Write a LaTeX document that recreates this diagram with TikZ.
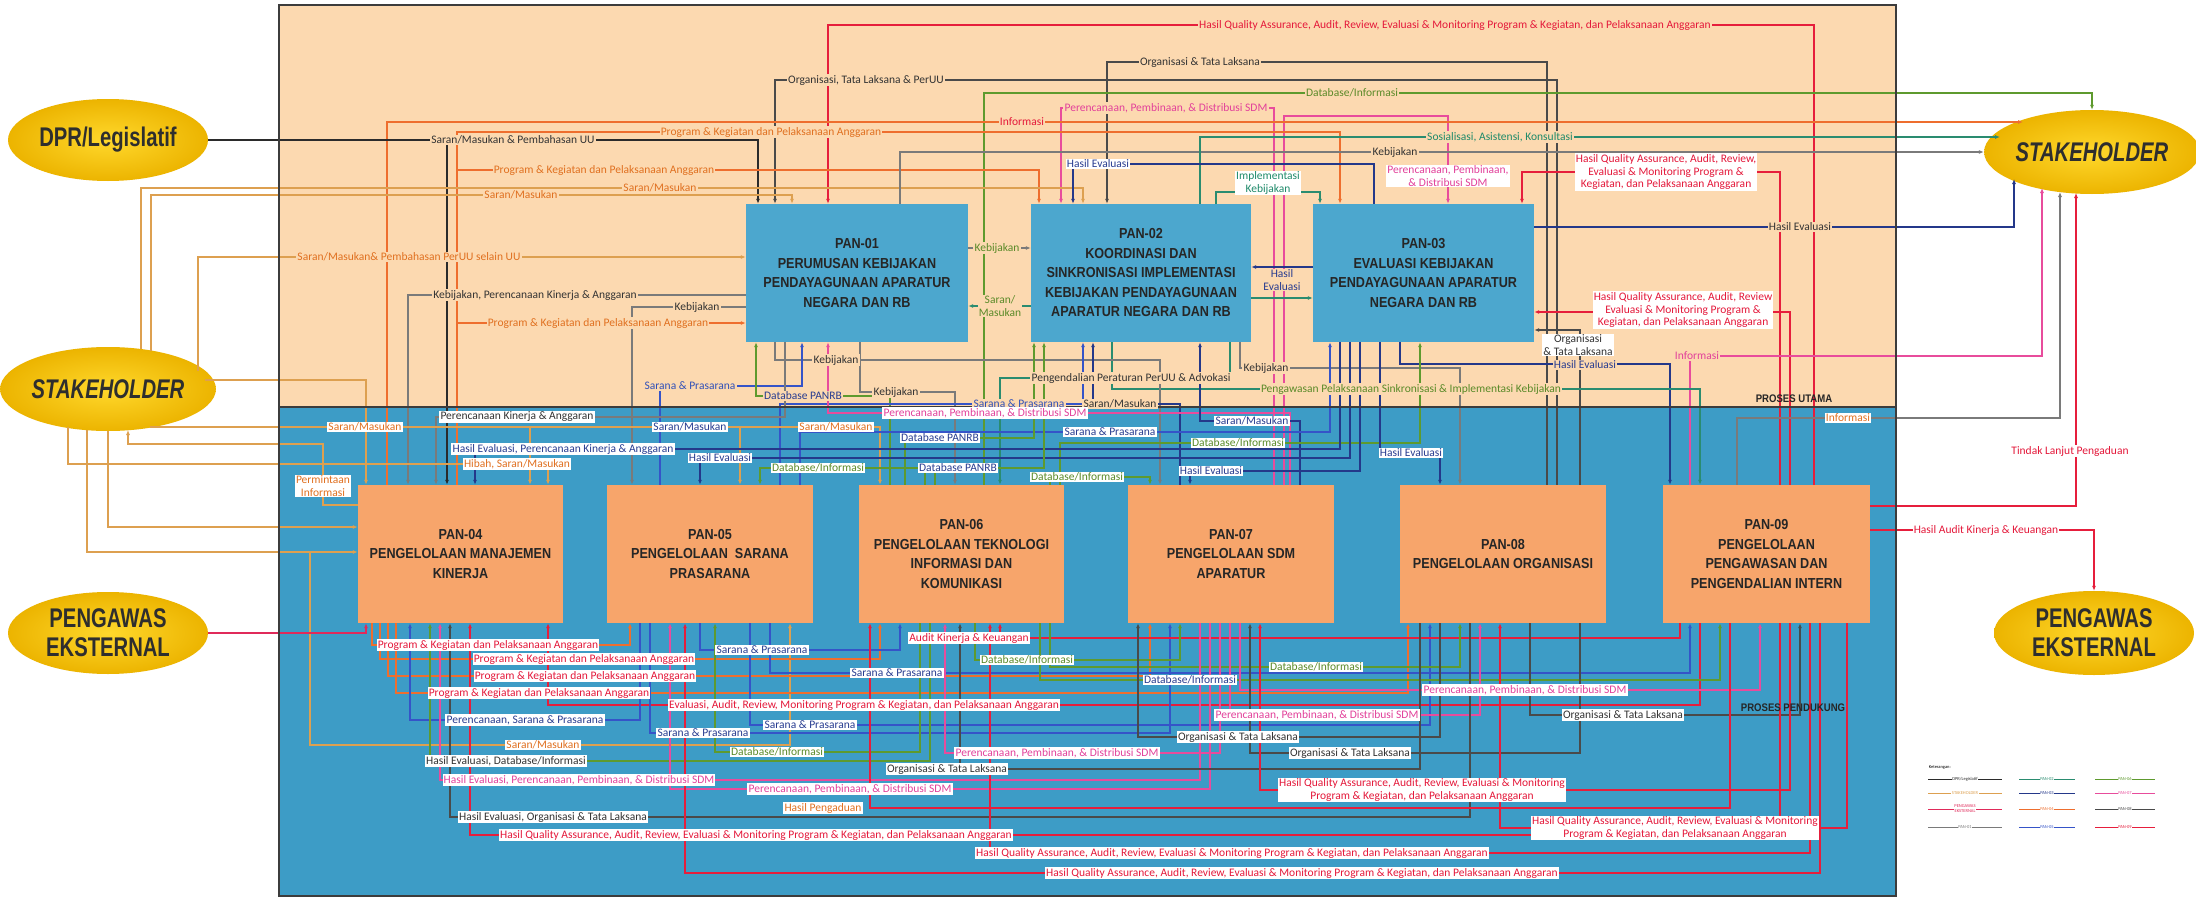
\documentclass[tikz,border=0pt]{standalone}
\usepackage{fontspec}
\setmainfont{Carlito}
\newfontfamily\boxfont[FakeStretch=0.87]{Liberation Sans}
\newfontfamily\ovalfont[FakeStretch=0.75]{Liberation Sans}
\usetikzlibrary{arrows.meta,shapes.geometric}

\definecolor{peach}{HTML}{FCD9B0}
\definecolor{seablue}{HTML}{3D9CC6}
\definecolor{topbox}{HTML}{4CA7CE}
\definecolor{botbox}{HTML}{F7A56B}
\definecolor{ovalin}{HTML}{FFD82C}
\definecolor{ovalout}{HTML}{ECB400}
\definecolor{framec}{HTML}{3C3C3C}
% connector colours
\definecolor{cdpr}{HTML}{2B2B2B}
\definecolor{cstk}{HTML}{DDA050}
\definecolor{cpen}{HTML}{E02A5A}
\definecolor{cA}{HTML}{7A7A7A}
\definecolor{cB}{HTML}{2A8C70}
\definecolor{cC}{HTML}{24388A}
\definecolor{cD}{HTML}{EE6E2E}
\definecolor{cE}{HTML}{3554C8}
\definecolor{cF}{HTML}{5E9A2E}
\definecolor{cG}{HTML}{E84C9C}
\definecolor{cH}{HTML}{4A4A4A}
\definecolor{cI}{HTML}{E61E3C}
% label text colours
\definecolor{tdark}{HTML}{333333}
\definecolor{torange}{HTML}{E07020}
\definecolor{tred}{HTML}{E4183A}
\definecolor{tpink}{HTML}{E2409A}
\definecolor{tgreen}{HTML}{5A8A28}
\definecolor{tnavy}{HTML}{283C90}
\definecolor{tteal}{HTML}{1E8A6A}
\definecolor{tblue}{HTML}{3050B8}

\begin{document}
\begin{tikzpicture}[x=1pt,y=-1pt,
  ln/.style={line width=1.1pt},
  ar/.style={-{Latex[length=5pt,width=4pt]}},
  lab/.style={font=\fontsize{11.5}{12.5}\selectfont, inner sep=1.2pt, align=center},
  onp/.style={lab, fill=peach},
  onw/.style={lab, fill=white},
  pbox/.style={rectangle, draw=none, font=\boxfont\bfseries\fontsize{14.5}{19.5}\selectfont,
    text=black!85, align=center, inner sep=0pt, minimum height=138pt},
  tbox/.style={pbox, fill=topbox},
  bbox/.style={pbox, fill=botbox},
  oval/.style={ellipse, shading=radial, inner color=ovalin, outer color=ovalout,
    font=\ovalfont\bfseries\fontsize{27}{29}\selectfont, text=black!82, align=center, inner sep=0pt},
  proc/.style={font=\boxfont\bfseries\fontsize{11}{12}\selectfont, text=black!85, inner sep=1pt},
  legtxt/.style={font=\fontsize{4.5}{5}\selectfont, inner sep=0.6pt, fill=white, align=center}]

\useasboundingbox (0,0) rectangle (2196,899);
\fill[white] (0,0) rectangle (2196,899);
\fill[peach] (279,5) rectangle (1896,407);
\fill[seablue] (279,407) rectangle (1896,896);

% ---------- external parties ----------
\node[oval, minimum width=200pt, minimum height=82pt] (dpr)  at (108,140) {DPR/Legislatif};
\node[oval, minimum width=200pt, minimum height=84pt] (stkL) at (108,389) {\itshape STAKEHOLDER};
\node[oval, minimum width=200pt, minimum height=82pt] (penL) at (108,633) {PENGAWAS\\EKSTERNAL};
\node[oval, minimum width=196pt, minimum height=84pt] (stkR) at (2092,152) {\itshape STAKEHOLDER};
\node[oval, minimum width=200pt, minimum height=84pt] (penR) at (2094,633) {PENGAWAS\\EKSTERNAL};

% ---------- main processes ----------
\node[tbox, minimum width=222pt] (pan01) at (857,273) {PAN-01\\PERUMUSAN KEBIJAKAN\\PENDAYAGUNAAN APARATUR\\NEGARA DAN RB};
\node[tbox, minimum width=220pt] (pan02) at (1141,273) {PAN-02\\KOORDINASI DAN\\SINKRONISASI IMPLEMENTASI\\KEBIJAKAN PENDAYAGUNAAN\\APARATUR NEGARA DAN RB};
\node[tbox, minimum width=221pt] (pan03) at (1423.5,273) {PAN-03\\EVALUASI KEBIJAKAN\\PENDAYAGUNAAN APARATUR\\NEGARA DAN RB};

% ---------- supporting processes ----------
\node[bbox, minimum width=205pt] (pan04) at (460.5,554) {PAN-04\\PENGELOLAAN MANAJEMEN\\KINERJA};
\node[bbox, minimum width=206pt] (pan05) at (710,554) {PAN-05\\PENGELOLAAN\ \ SARANA\\PRASARANA};
\node[bbox, minimum width=205pt] (pan06) at (961.5,554) {PAN-06\\PENGELOLAAN TEKNOLOGI\\INFORMASI DAN\\KOMUNIKASI};
\node[bbox, minimum width=206pt] (pan07) at (1231,554) {PAN-07\\PENGELOLAAN SDM\\APARATUR};
\node[bbox, minimum width=206pt] (pan08) at (1503,554) {PAN-08\\PENGELOLAAN ORGANISASI};
\node[bbox, minimum width=207pt] (pan09) at (1766.5,554) {PAN-09\\PENGELOLAAN\\PENGAWASAN DAN\\PENGENDALIAN INTERN};

% ---------- flows in the upper band ----------
\draw[ln,cI,ar] (1814,0 |- pan09.north) -- (1814,25) -- (828,25) -- (828,0 |- pan01.north);
\draw[ln,cH,ar] (1547,0 |- pan08.north) -- (1547,62) -- (1107,62) -- (1107,0 |- pan02.north);
\draw[ln,cH,ar] (1557,0 |- pan08.north) -- (1557,80) -- (775,80) -- (775,0 |- pan01.north);
\draw[ln,cF,ar] (984,0 |- pan06.north) -- (984,93) -- (2092,93) -- (stkR.north);
\draw[ln,cG,ar] (1274,0 |- pan07.north) -- (1274,108) -- (1061,108) -- (1061,0 |- pan02.north);
\draw[ln,cG,ar] (1284,0 |- pan07.north) -- (1284,116) -- (1448,116) -- (1448,0 |- pan03.north);
\draw[ln,cD,ar] (387,0 |- pan04.north) -- (387,122) -- (2023,122);
\draw[ln,cdpr,ar] (dpr.east) -- (758,140) -- (758,0 |- pan01.north);
\coordinate (dprtap) at (447,140);
\draw[ln,cdpr,ar] (dprtap) -- (447,0 |- pan04.north);
\draw[ln,cD,ar] (457,0 |- pan04.north) -- (457,132) -- (1340,132) -- (1340,0 |- pan03.north);
\coordinate (kgtap1) at (457,170);
\coordinate (kgtap2) at (457,323);
\draw[ln,cD,ar] (kgtap1) -- (1039,170) -- (1039,0 |- pan02.north);
\draw[ln,cD,ar] (kgtap2) -- (pan01.west |- 0,323);
\draw[ln,cstk,ar] (141,349) -- (141,188) -- (1083,188) -- (1083,0 |- pan02.north);
\draw[ln,cstk,ar] (151,351) -- (151,195) -- (792,195) -- (792,0 |- pan01.north);
\draw[ln,cstk,ar] (198,371) -- (198,257) -- (pan01.west |- 0,257);
\draw[ln,cstk,ar] (205,380) -- (366,380) -- (366,0 |- pan04.north);
\draw[ln,cA,ar] (pan01.west |- 0,295) -- (408,295) -- (408,0 |- pan04.north);
\draw[ln,cA,ar] (pan01.west |- 0,307) -- (632,307) -- (632,0 |- pan05.north);
\draw[ln,cA,ar] (900,0 |- pan01.north) -- (900,152) -- (stkR.west);
\draw[ln,cB,ar] (1200,0 |- pan02.north) -- (1200,137) -- (2000,137);
\draw[ln,cB,ar] (1216,0 |- pan02.north) -- (1216,192) -- (1320,192) -- (1320,0 |- pan03.north);
\draw[ln,cC,ar] (1374,0 |- pan03.north) -- (1374,164) -- (1073,164) -- (1073,0 |- pan02.north);
\draw[ln,cA,ar] (pan01.east |- 0,248) -- (pan02.west |- 0,248);
\draw[ln,cB,ar] (pan02.west |- 0,306) -- (pan01.east |- 0,306);
\draw[ln,cC,ar] (pan03.west |- 0,267) -- (pan02.east |- 0,267);
\draw[ln,cB,ar] (pan02.east |- 0,298) -- (pan03.west |- 0,298);
\draw[ln,cI,ar] (1780,0 |- pan09.north) -- (1780,172) -- (1522,172) -- (1522,0 |- pan03.north);
\draw[ln,cI,ar] (1790,0 |- pan09.north) -- (1790,312) -- (pan03.east |- 0,312);
\draw[ln,cH,ar] (1580,0 |- pan08.north) -- (1580,330) -- (pan03.east |- 0,330);
\draw[ln,cC,ar] (pan03.east |- 0,227) -- (2014,227) -- (2014,179);
\draw[ln,cC,ar] (1400,0 |- pan03.south) -- (1400,364) -- (1670,364) -- (1670,0 |- pan09.north);
\draw[ln,cG,ar] (1690,0 |- pan09.north) -- (1690,356) -- (2042,356) -- (2042,188);
\draw[ln,cA,ar] (1737,0 |- pan09.north) -- (1737,418) -- (2060,418) -- (2060,192);
\draw[ln,cI,ar] (pan09.east |- 0,506) -- (2076,506) -- (2076,193);
\draw[ln,cI,ar] (pan09.east |- 0,530) -- (2094,530) -- (penR.north);
\draw[ln,cB,ar] (1112,0 |- pan02.south) -- (1112,389) -- (1700,389) -- (1700,0 |- pan09.north);
\draw[ln,cB,ar] (1230,0 |- pan02.south) -- (1230,378) -- (1000,378) -- (1000,0 |- pan06.north);
\draw[ln,cA,ar] (1240,0 |- pan02.south) -- (1240,368) -- (1460,368) -- (1460,0 |- pan08.north);
\draw[ln,cA,ar] (775,0 |- pan01.south) -- (775,360) -- (1160,360) -- (1160,0 |- pan07.north);
\draw[ln,cA,ar] (860,0 |- pan01.south) -- (860,392) -- (955,392) -- (955,0 |- pan06.north);
\draw[ln,cE,ar] (660,0 |- pan05.north) -- (660,386) -- (802,386) -- (802,0 |- pan01.south);
\draw[ln,cF,ar] (890,0 |- pan06.north) -- (890,396) -- (756,396) -- (756,0 |- pan01.south);
\draw[ln,cE,ar] (780,0 |- pan05.north) -- (780,404) -- (1083,404) -- (1083,0 |- pan02.south);
\draw[ln,cC,ar] (1180,0 |- pan07.north) -- (1180,404) -- (1093,404) -- (1093,0 |- pan02.south);
\draw[ln,cG,ar] (1290,0 |- pan07.north) -- (1290,413) -- (828,413) -- (828,0 |- pan01.south);
\draw[ln,cA,ar] (785,0 |- pan01.south) -- (785,417) -- (436,417) -- (436,0 |- pan04.north);
\draw[ln,cC,ar] (1300,0 |- pan07.north) -- (1300,421) -- (1200,421) -- (1200,0 |- pan02.south);
\draw[ln,cstk,ar] (150,427) -- (880,427) -- (880,0 |- pan06.north);
\coordinate (sktap1) at (530,427);
\coordinate (sktap2) at (740,427);
\draw[ln,cstk,ar] (sktap1) -- (530,0 |- pan04.north);
\draw[ln,cstk,ar] (sktap2) -- (740,0 |- pan05.north);
\draw[ln,cE,ar] (800,0 |- pan05.north) -- (800,432) -- (1330,432) -- (1330,0 |- pan03.south);
\draw[ln,cF,ar] (905,0 |- pan06.north) -- (905,438) -- (1034,438) -- (1034,0 |- pan02.south);
\draw[ln,cF,ar] (1060,0 |- pan06.north) -- (1060,443) -- (1420,443) -- (1420,0 |- pan03.south);
\draw[ln,cC,ar] (1340,0 |- pan03.south) -- (1340,449) -- (475,449) -- (475,0 |- pan04.north);
\draw[ln,cC,ar] (1380,0 |- pan03.south) -- (1380,453) -- (1440,453) -- (1440,0 |- pan08.north);
\draw[ln,cC,ar] (1350,0 |- pan03.south) -- (1350,458) -- (700,458) -- (700,0 |- pan05.north);
\draw[ln,cstk,ar] (68,427) -- (68,464) -- (548,464) -- (548,0 |- pan04.north);
\draw[ln,cF,ar] (925,0 |- pan06.north) -- (925,468) -- (760,468) -- (760,0 |- pan05.north);
\draw[ln,cF,ar] (935,0 |- pan06.north) -- (935,468) -- (1044,468) -- (1044,0 |- pan02.south);
\draw[ln,cC,ar] (1360,0 |- pan03.south) -- (1360,471) -- (1190,471) -- (1190,0 |- pan07.north);
\draw[ln,cF,ar] (1050,0 |- pan06.north) -- (1050,477) -- (1150,477) -- (1150,0 |- pan07.north);

% ---------- stakeholder / supervisor links on the left ----------
\draw[ln,cstk,ar] (87,430) -- (87,552) -- (pan04.west |- 0,552);
\draw[ln,cstk,ar] (108,431) -- (108,527) -- (pan04.west |- 0,527);
\draw[ln,cstk,ar] (pan04.west |- 0,505) -- (323,505) -- (323,444) -- (128,444) -- (128,430);
\coordinate (sktap3) at (310,552);
\draw[ln,cstk,ar] (sktap3) -- (310,745) -- (790,745) -- (790,0 |- pan05.south);
\draw[ln,cpen,ar] (penL.east) -- (366,633) -- (366,0 |- pan04.south);

% ---------- flows in the lower band ----------
\draw[ln,cD,ar] (372,0 |- pan04.south) -- (372,645) -- (630,645) -- (630,0 |- pan05.south);
\draw[ln,cD,ar] (380,0 |- pan04.south) -- (380,659) -- (880,659) -- (880,0 |- pan06.south);
\draw[ln,cD,ar] (388,0 |- pan04.south) -- (388,676) -- (1150,676) -- (1150,0 |- pan07.south);
\draw[ln,cD,ar] (396,0 |- pan04.south) -- (396,693) -- (1408,693) -- (1408,0 |- pan08.south);
\draw[ln,cI,ar] (1700,0 |- pan09.south) -- (1700,705) -- (548,705) -- (548,0 |- pan04.south);
\draw[ln,cE,ar] (640,0 |- pan05.south) -- (640,720) -- (410,720) -- (410,0 |- pan04.south);
\draw[ln,cE,ar] (700,0 |- pan05.south) -- (700,650) -- (900,650) -- (900,0 |- pan06.south);
\draw[ln,cE,ar] (650,0 |- pan05.south) -- (650,733) -- (1170,733) -- (1170,0 |- pan07.south);
\draw[ln,cE,ar] (750,0 |- pan05.south) -- (750,725) -- (1430,725) -- (1430,0 |- pan08.south);
\draw[ln,cE,ar] (770,0 |- pan05.south) -- (770,673) -- (1690,673) -- (1690,0 |- pan09.south);
\draw[ln,cI,ar] (1680,0 |- pan09.south) -- (1680,638) -- (1000,638) -- (1000,0 |- pan06.south);
\draw[ln,cF,ar] (975,0 |- pan06.south) -- (975,660) -- (1180,660) -- (1180,0 |- pan07.south);
\draw[ln,cF,ar] (1050,0 |- pan06.south) -- (1050,667) -- (1460,667) -- (1460,0 |- pan08.south);
\draw[ln,cF,ar] (1040,0 |- pan06.south) -- (1040,680) -- (1720,680) -- (1720,0 |- pan09.south);
\draw[ln,cF,ar] (920,0 |- pan06.south) -- (920,752) -- (715,752) -- (715,0 |- pan05.south);
\draw[ln,cF,ar] (930,0 |- pan06.south) -- (930,761) -- (430,761) -- (430,0 |- pan04.south);
\draw[ln,cG,ar] (1200,0 |- pan07.south) -- (1200,780) -- (440,780) -- (440,0 |- pan04.south);
\draw[ln,cG,ar] (1210,0 |- pan07.south) -- (1210,789) -- (670,789) -- (670,0 |- pan05.south);
\draw[ln,cG,ar] (1220,0 |- pan07.south) -- (1220,753) -- (945,753) -- (945,0 |- pan06.south);
\draw[ln,cG,ar] (1230,0 |- pan07.south) -- (1230,715) -- (1480,715) -- (1480,0 |- pan08.south);
\draw[ln,cG,ar] (1240,0 |- pan07.south) -- (1240,690) -- (1760,690) -- (1760,0 |- pan09.south);
\draw[ln,cH,ar] (1420,0 |- pan08.south) -- (1420,769) -- (960,769) -- (960,0 |- pan06.south);
\draw[ln,cH,ar] (1440,0 |- pan08.south) -- (1440,737) -- (1138,737) -- (1138,0 |- pan07.south);
\draw[ln,cH,ar] (1580,0 |- pan08.south) -- (1580,753) -- (1250,753) -- (1250,0 |- pan07.south);
\draw[ln,cH,ar] (1530,0 |- pan08.south) -- (1530,715) -- (1800,715) -- (1800,0 |- pan09.south);
\draw[ln,cH,ar] (1470,0 |- pan08.south) -- (1470,817) -- (450,817) -- (450,0 |- pan04.south);
\draw[ln,cI,ar] (1780,0 |- pan09.south) -- (1780,835) -- (470,835) -- (470,0 |- pan04.south);
\draw[ln,cI,ar] (1790,0 |- pan09.south) -- (1790,790) -- (1260,790) -- (1260,0 |- pan07.south);
\draw[ln,cI,ar] (1810,0 |- pan09.south) -- (1810,853) -- (990,853) -- (990,0 |- pan06.south);
\draw[ln,cI,ar] (1820,0 |- pan09.south) -- (1820,873) -- (685,873) -- (685,0 |- pan05.south);
\draw[ln,cI,ar] (1847,0 |- pan09.south) -- (1847,828) -- (1500,828) -- (1500,0 |- pan08.south);
\draw[ln,cI,ar] (1730,0 |- pan09.south) -- (1730,808) -- (870,808) -- (870,0 |- pan06.south);

% ---------- frame ----------
\draw[framec, line width=1.4pt] (279,5) rectangle (1896,896);
\draw[framec, line width=1.4pt] (279,407) -- (1896,407);

% ---------- labels, upper band ----------
\node[onp,text=tred] (t1) at (1455,25) {Hasil Quality Assurance, Audit, Review, Evaluasi \& Monitoring Program \& Kegiatan, dan Pelaksanaan Anggaran};
\node[onp,text=tdark] (t2) at (1200,62) {Organisasi \& Tata Laksana};
\node[onp,text=tdark] (t3) at (866,80) {Organisasi, Tata Laksana \& PerUU};
\node[onp,text=tgreen] (t4) at (1352,93) {Database/Informasi};
\node[onp,text=tpink] (t5) at (1166,108) {Perencanaan, Pembinaan, \& Distribusi SDM};
\node[onw,text=tpink] (t6) at (1448,176) {Perencanaan, Pembinaan,\\\& Distribusi SDM};
\node[onp,text=tred] (t7) at (1022,122) {Informasi};
\node[onp,text=tdark] (t8) at (513,140) {Saran/Masukan \& Pembahasan UU};
\node[onp,text=torange] (t9) at (771,132) {Program \& Kegiatan dan Pelaksanaan Anggaran};
\node[onp,text=torange] (t10) at (604,170) {Program \& Kegiatan dan Pelaksanaan Anggaran};
\node[onp,text=torange] (t11) at (660,188) {Saran/Masukan};
\node[onp,text=torange] (t12) at (521,195) {Saran/Masukan};
\node[onp,text=torange] (t13) at (409,257) {Saran/Masukan\& Pembahasan PerUU selain UU};
\node[onp,text=tdark] (t14) at (535,295) {Kebijakan, Perencanaan Kinerja \& Anggaran};
\node[onp,text=tdark] (t15) at (697,307) {Kebijakan};
\node[onp,text=torange] (t16) at (598,323) {Program \& Kegiatan dan Pelaksanaan Anggaran};
\node[onp,text=tblue] (t17) at (690,386) {Sarana \& Prasarana};
\node[onp,text=tgreen] (t18) at (997,248) {Kebijakan};
\node[onp,text=tgreen] (t19) at (1000,306) {Saran/\\Masukan};
\node[onw,text=tnavy] (t20) at (1098,164) {Hasil Evaluasi};
\node[onw,text=tteal] (t21) at (1268,183) {Implementasi\\Kebijakan};
\node[onp,text=tnavy] (t22) at (1282,280) {Hasil\\Evaluasi};
\node[onp,text=tteal] (t23) at (1500,137) {Sosialisasi, Asistensi, Konsultasi};
\node[onp,text=tdark] (t24) at (1395,152) {Kebijakan};
\node[onw,text=tred] (t25) at (1666,172) {Hasil Quality Assurance, Audit, Review,\\Evaluasi \& Monitoring Program \&\\Kegiatan, dan Pelaksanaan Anggaran};
\node[onp,text=tdark] (t26) at (1800,227) {Hasil Evaluasi};
\node[onw,text=tred] (t27) at (1683,310) {Hasil Quality Assurance, Audit, Review\\Evaluasi \& Monitoring Program \&\\Kegiatan, dan Pelaksanaan Anggaran};
\node[onw,text=tdark] (t28) at (1578,345) {Organisasi\\\& Tata Laksana};
\node[onp,text=tnavy] (t29) at (1585,365) {Hasil Evaluasi};
\node[onp,text=tpink] (t30) at (1697,356) {Informasi};
\node[onp,text=tgreen] (t31) at (1411,389) {Pengawasan Pelaksanaan Sinkronisasi \& Implementasi Kebijakan};
\node[onp,text=tdark] (t32) at (1131,378) {Pengendalian Peraturan PerUU \& Advokasi};
\node[onp,text=tdark] (t33) at (1266,368) {Kebijakan};
\node[onp,text=tdark] (t34) at (836,360) {Kebijakan};
\node[onp,text=tdark] (t35) at (896,392) {Kebijakan};
\node[onp,text=tnavy] (t36) at (803,396) {Database PANRB};
\node[onp,text=tblue] (t37) at (1019,404) {Sarana \& Prasarana};
\node[onp,text=tdark] (t38) at (1120,404) {Saran/Masukan};
\node[proc] (pu) at (1794,399) {PROSES UTAMA};

% ---------- labels, lower band ----------
\node[onw,text=tpink] (b1) at (985,413) {Perencanaan, Pembinaan, \& Distribusi SDM};
\node[onw,text=tdark] (b2) at (517,417) {Perencanaan Kinerja \& Anggaran};
\node[onw,text=torange] (b3) at (365,427) {Saran/Masukan};
\node[onw,text=tnavy] (b4) at (690,427) {Saran/Masukan};
\node[onw,text=torange] (b5) at (836,427) {Saran/Masukan};
\node[onw,text=tnavy] (b6) at (1110,432) {Sarana \& Prasarana};
\node[onw,text=tnavy] (b7) at (940,438) {Database PANRB};
\node[onw,text=tnavy] (b8) at (1252,421) {Saran/Masukan};
\node[onw,text=tgreen] (b9) at (1238,443) {Database/Informasi};
\node[onw,text=tnavy] (b10) at (563,449) {Hasil Evaluasi, Perencanaan Kinerja \& Anggaran};
\node[onw,text=tnavy] (b11) at (720,458) {Hasil Evaluasi};
\node[onw,text=tnavy] (b12) at (1411,453) {Hasil Evaluasi};
\node[onw,text=torange] (b13) at (517,464) {Hibah, Saran/Masukan};
\node[onw,text=tgreen] (b14) at (818,468) {Database/Informasi};
\node[onw,text=tnavy] (b15) at (958,468) {Database PANRB};
\node[onw,text=tnavy] (b16) at (1211,471) {Hasil Evaluasi};
\node[onw,text=tgreen] (b17) at (1077,477) {Database/Informasi};
\node[onw,text=torange] (b18) at (323,486) {Permintaan\\Informasi};
\node[onw,text=torange] (b19) at (1848,418) {Informasi};

\node[onw,text=tred] (c1) at (488,645) {Program \& Kegiatan dan Pelaksanaan Anggaran};
\node[onw,text=tred] (c2) at (584,659) {Program \& Kegiatan dan Pelaksanaan Anggaran};
\node[onw,text=tred] (c3) at (585,676) {Program \& Kegiatan dan Pelaksanaan Anggaran};
\node[onw,text=tred] (c4) at (539,693) {Program \& Kegiatan dan Pelaksanaan Anggaran};
\node[onw,text=tred] (c5) at (864,705) {Evaluasi, Audit, Review, Monitoring Program \& Kegiatan, dan Pelaksanaan Anggaran};
\node[onw,text=tnavy] (c6) at (525,720) {Perencanaan, Sarana \& Prasarana};
\node[onw,text=tnavy] (c7) at (762,650) {Sarana \& Prasarana};
\node[onw,text=tnavy] (c8) at (703,733) {Sarana \& Prasarana};
\node[onw,text=tnavy] (c9) at (810,725) {Sarana \& Prasarana};
\node[onw,text=tnavy] (c10) at (897,673) {Sarana \& Prasarana};
\node[onw,text=tred] (c11) at (969,638) {Audit Kinerja \& Keuangan};
\node[onw,text=tgreen] (c12) at (1027,660) {Database/Informasi};
\node[onw,text=tgreen] (c13) at (1316,667) {Database/Informasi};
\node[onw,text=tnavy] (c14) at (1190,680) {Database/Informasi};
\node[onw,text=tgreen] (c15) at (777,752) {Database/Informasi};
\node[onw,text=tdark] (c16) at (506,761) {Hasil Evaluasi, Database/Informasi};
\node[onw,text=torange] (c17) at (543,745) {Saran/Masukan};
\node[onw,text=tpink] (c18) at (579,780) {Hasil Evaluasi, Perencanaan, Pembinaan, \& Distribusi SDM};
\node[onw,text=tpink] (c19) at (850,789) {Perencanaan, Pembinaan, \& Distribusi SDM};
\node[onw,text=tpink] (c20) at (1057,753) {Perencanaan, Pembinaan, \& Distribusi SDM};
\node[onw,text=tpink] (c21) at (1317,715) {Perencanaan, Pembinaan, \& Distribusi SDM};
\node[onw,text=tpink] (c22) at (1525,690) {Perencanaan, Pembinaan, \& Distribusi SDM};
\node[onw,text=tdark] (c23) at (947,769) {Organisasi \& Tata Laksana};
\node[onw,text=tdark] (c24) at (1238,737) {Organisasi \& Tata Laksana};
\node[onw,text=tdark] (c25) at (1350,753) {Organisasi \& Tata Laksana};
\node[onw,text=tdark] (c26) at (1623,715) {Organisasi \& Tata Laksana};
\node[onw,text=tdark] (c27) at (553,817) {Hasil Evaluasi, Organisasi \& Tata Laksana};
\node[onw,text=tred] (c28) at (756,835) {Hasil Quality Assurance, Audit, Review, Evaluasi \& Monitoring Program \& Kegiatan, dan Pelaksanaan Anggaran};
\node[onw,text=tred] (c29) at (1422,790) {Hasil Quality Assurance, Audit, Review, Evaluasi \& Monitoring\\Program \& Kegiatan, dan Pelaksanaan Anggaran};
\node[onw,text=tred] (c30) at (1232,853) {Hasil Quality Assurance, Audit, Review, Evaluasi \& Monitoring Program \& Kegiatan, dan Pelaksanaan Anggaran};
\node[onw,text=tred] (c31) at (1302,873) {Hasil Quality Assurance, Audit, Review, Evaluasi \& Monitoring Program \& Kegiatan, dan Pelaksanaan Anggaran};
\node[onw,text=tred] (c32) at (1675,828) {Hasil Quality Assurance, Audit, Review, Evaluasi \& Monitoring\\Program \& Kegiatan, dan Pelaksanaan Anggaran};
\node[onw,text=torange] (c33) at (823,808) {Hasil Pengaduan};
\node[proc] (pp) at (1793,708) {PROSES PENDUKUNG};

% ---------- labels outside the frame ----------
\node[onw,text=tred] (r1) at (2070,451) {Tindak Lanjut Pengaduan};
\node[onw,text=tred] (r2) at (1986,530) {Hasil Audit Kinerja \& Keuangan};

% ---------- key ----------
\node[legtxt, anchor=west] (keyhead) at (1928,767) {Keterangan:};
\foreach \cx/\cy/\hw/\cc/\tt/\nn in {
  1965/779/37/cdpr/{DPR/Legislatif}/1, 1965/793/37/cstk/{STAKEHOLDER}/2,
  1965/809/37/cpen/{PENGAWAS\\EKSTERNAL}/3, 1965/827/37/cA/{PAN-01}/4,
  2047/779/28/cB/{PAN-02}/5, 2047/793/28/cC/{PAN-03}/6,
  2047/809/28/cD/{PAN-04}/7, 2047/827/28/cE/{PAN-05}/8,
  2125/779/30/cF/{PAN-06}/9, 2125/793/30/cG/{PAN-07}/10,
  2125/809/30/cH/{PAN-08}/11, 2125/827/30/cI/{PAN-09}/12} {
  \draw[\cc, line width=1pt] (\cx-\hw,\cy) -- (\cx+\hw,\cy);
  \node[legtxt, text=\cc] (key\nn) at (\cx,\cy) {\tt};
}
\end{tikzpicture}
\end{document}
